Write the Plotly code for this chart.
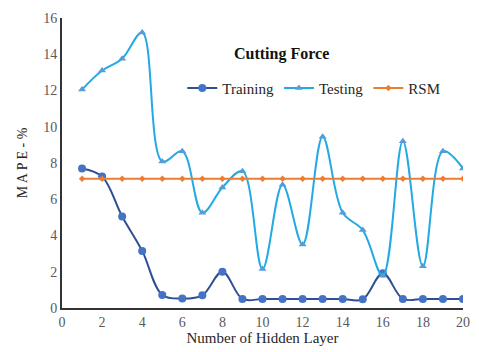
import plotly.graph_objects as go

layers = list(range(1, 21))
training = [7.7, 7.25, 5.05, 3.15, 0.72, 0.52, 0.7, 2.0, 0.5, 0.5, 0.5, 0.5, 0.5, 0.5, 0.48, 1.92, 0.5, 0.5, 0.5, 0.5]
testing = [12.05, 13.1, 13.75, 15.2, 8.08, 8.65, 5.25, 6.65, 7.55, 2.15, 6.8, 3.5, 9.45, 5.25, 4.3, 1.78, 9.2, 2.3, 8.65, 7.7]
rsm = [7.13] * 20

x_ticks = list(range(0, 21, 2))
y_ticks = list(range(0, 17, 2))

serif = "Liberation Serif"

fig = go.Figure()
fig.add_trace(go.Scatter(
    x=layers, y=training, name="Training", mode="lines+markers",
    line=dict(color="#2F4F94", width=2, shape="spline", smoothing=1.0),
    marker=dict(symbol="circle", size=8, color="#4472C4"),
))
fig.add_trace(go.Scatter(
    x=layers, y=testing, name="Testing", mode="lines+markers",
    line=dict(color="#22AAE2", width=2, shape="spline", smoothing=1.0),
    marker=dict(symbol="triangle-up", size=7, color="#5B9BD5"),
))
fig.add_trace(go.Scatter(
    x=layers, y=rsm, name="RSM", mode="lines+markers",
    line=dict(color="#ED7D31", width=2),
    marker=dict(symbol="diamond", size=5, color="#ED7D31"),
))

fig.update_layout(
    width=479, height=352,
    margin=dict(l=62, r=9, t=18, b=44),
    paper_bgcolor="white", plot_bgcolor="white",
    font=dict(family=serif, size=14, color="#404040"),
    showlegend=True,
    legend=dict(
        orientation="h", x=0.3, y=0.815, xanchor="left", yanchor="top",
        font=dict(family=serif, size=15, color="#262626"),
        bgcolor="rgba(0,0,0,0)", itemwidth=30, tracegroupgap=0,
    ),
    annotations=[dict(
        text="<b>Cutting Force</b>", x=0.547, y=0.915, xref="paper", yref="paper",
        showarrow=False, font=dict(family=serif, size=16, color="#111111"),
    )],
    xaxis=dict(
        range=[0, 20], tickvals=x_ticks, showgrid=False, zeroline=False,
        showline=True, linecolor="#333333", linewidth=2, ticks="",
        tickfont=dict(family=serif, size=14, color="#595959"),
        title=dict(text="Number of Hidden Layer", standoff=2,
                   font=dict(family=serif, size=15, color="#262626")),
    ),
    yaxis=dict(
        range=[0, 16], tickvals=y_ticks, showgrid=False, zeroline=False,
        showline=True, linecolor="#333333", linewidth=2, ticks="",
        tickfont=dict(family=serif, size=14, color="#595959"),
        title=dict(text="M A P E - %", standoff=12,
                   font=dict(family=serif, size=14, color="#262626")),
    ),
)

fig.write_html("out.html")
